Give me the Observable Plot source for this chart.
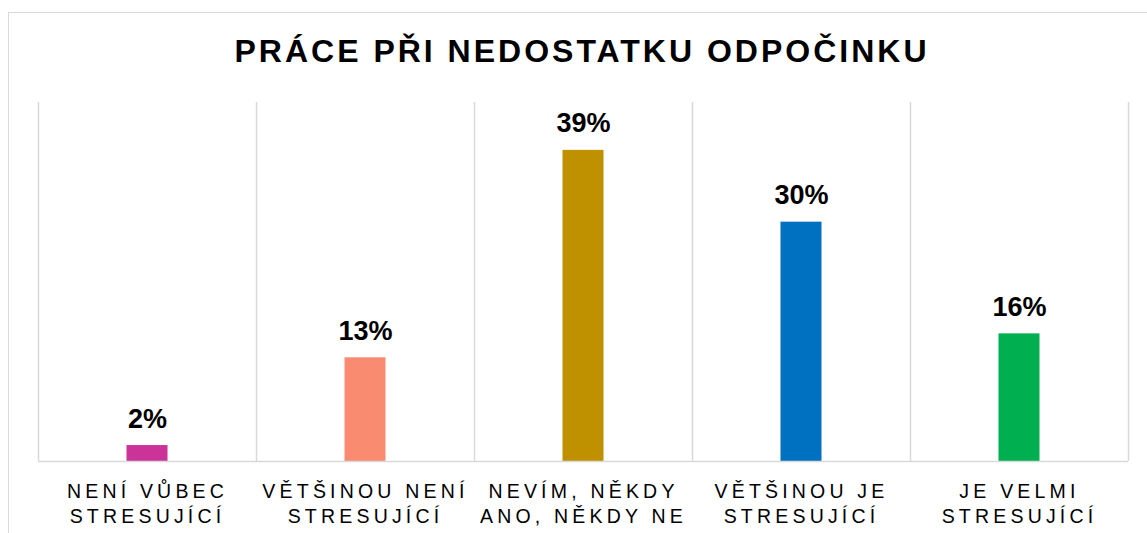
<!DOCTYPE html>
<html><head><meta charset="utf-8">
<script src="https://cdn.jsdelivr.net/npm/d3@7"></script>
<script src="https://cdn.jsdelivr.net/npm/@observablehq/plot@0.6"></script>
<style>
html,body{margin:0;padding:0;background:#fff;width:1147px;height:533px;overflow:hidden;font-family:"Liberation Sans",Arial,sans-serif;}
#frame{position:absolute;left:8px;top:12px;width:1200px;height:600px;border-left:1px solid #d9d9d9;border-top:1px solid #d9d9d9;}
#title{position:absolute;left:0;top:35px;width:1164px;text-align:center;font-size:32px;line-height:32px;font-weight:bold;letter-spacing:3px;color:#000;white-space:nowrap;}
#chart{position:absolute;left:0;top:90px;}
</style></head><body>
<div id="frame"></div>
<div id="title">PRÁCE PŘI NEDOSTATKU ODPOČINKU</div>
<div id="chart"></div>
<script>
const categories = ["NENÍ VŮBEC STRESUJÍCÍ", "VĚTŠINOU NENÍ STRESUJÍCÍ", "NEVÍM, NĚKDY ANO, NĚKDY NE", "VĚTŠINOU JE STRESUJÍCÍ", "JE VELMI STRESUJÍCÍ"];
const labelLines = ["NENÍ VŮBEC\nSTRESUJÍCÍ", "VĚTŠINOU NENÍ\nSTRESUJÍCÍ", "NEVÍM, NĚKDY\nANO, NĚKDY NE", "VĚTŠINOU JE\nSTRESUJÍCÍ", "JE VELMI\nSTRESUJÍCÍ"];
const values = [2, 13, 39, 30, 16];
const colors = ["#CC3399", "#F98B70", "#BF9000", "#0070C0", "#00B050"];

const data = categories.map((c, i) => ({cat: c, label: labelLines[i], value: values[i], color: colors[i]}));
const W = 1147, H = 443, mL = 38, mR = 19, mT = 12, mB = 72;
const band = (W - mL - mR) / categories.length;
const barW = 41;
const grid = "#d9d9d9";

const plot = Plot.plot({
  width: W, height: H,
  marginLeft: mL, marginRight: mR, marginTop: mT, marginBottom: mB,
  style: {background: "transparent", fontFamily: "Liberation Sans, Arial, sans-serif", overflow: "visible"},
  x: {domain: categories, padding: 0, axis: null},
  y: {domain: [0, 45], axis: null},
  color: {type: "identity"},
  marks: [
    Plot.ruleX(categories, {x: d => d, y1: 0, y2: 45, dx: -band / 2, stroke: grid, strokeWidth: 1.5}),
    Plot.ruleX(categories.slice(-1), {x: d => d, y1: 0, y2: 45, dx: band / 2, stroke: grid, strokeWidth: 1.5}),
    Plot.barY(data, {x: "cat", y: "value", fill: d => d.color, insetLeft: (band - barW) / 2, insetRight: (band - barW) / 2}),
    Plot.ruleY([0], {stroke: grid, strokeWidth: 1.5}),
    Plot.text(data, {x: "cat", y: "value", text: d => d.value + "%", lineAnchor: "bottom", dy: -18, fontSize: 27, fontWeight: "bold", fill: "#000"}),
    Plot.text(data, {x: "cat", y: 0, text: "label", lineAnchor: "top", dy: 19, fontSize: 19.5, lineHeight: 1.28, fill: "#000"})
  ]
});
const texts = d3.select(plot).selectAll("g[aria-label='text']").nodes();
if (texts.length) d3.select(texts[texts.length - 1]).style("letter-spacing", "4.2px");
document.getElementById("chart").appendChild(plot);
</script>
</body></html>
